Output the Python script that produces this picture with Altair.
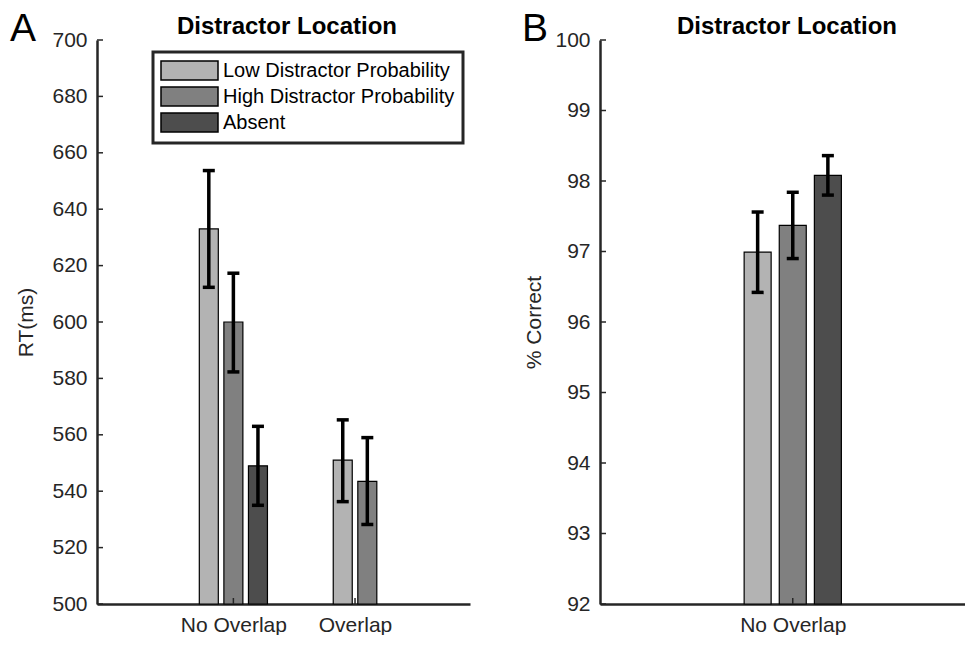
import altair as alt
import pandas as pd

FONT = "Liberation Sans"

conditions = ["Low Distractor Probability", "High Distractor Probability", "Absent"]
colors = ["#b3b3b3", "#808080", "#4d4d4d"]

# Panel A: response time
rt_groups = ["No Overlap", "Overlap"]
rt_group = ["No Overlap", "No Overlap", "No Overlap", "Overlap", "Overlap"]
rt_cond = ["Low Distractor Probability", "High Distractor Probability", "Absent",
           "Low Distractor Probability", "High Distractor Probability"]
rt_mean = [633.0, 600.0, 549.0, 551.0, 543.5]
rt_lo = [612.3, 582.3, 535.0, 536.3, 528.2]
rt_hi = [653.7, 617.3, 563.0, 565.3, 559.0]
rt_ticks = [500, 520, 540, 560, 580, 600, 620, 640, 660, 680, 700]

# Panel B: accuracy
acc_groups = ["No Overlap"]
acc_group = ["No Overlap", "No Overlap", "No Overlap"]
acc_cond = ["Low Distractor Probability", "High Distractor Probability", "Absent"]
acc_mean = [96.99, 97.37, 98.08]
acc_lo = [96.42, 96.90, 97.80]
acc_hi = [97.56, 97.84, 98.36]
acc_ticks = [92, 93, 94, 95, 96, 97, 98, 99, 100]

panel_title = "Distractor Location"


def make_df(groups, group_col, cond_col, means, lo, hi):
    rows = []
    for gi, g in enumerate(groups):
        idx = [i for i, x in enumerate(group_col) if x == g]
        n = len(idx)
        for k, i in enumerate(idx):
            rows.append({
                "group": g,
                "cond": cond_col[i],
                "pos": gi + 1 + (k - (n - 1) / 2) * 0.202,
                "mean": means[i],
                "lo": lo[i],
                "hi": hi[i],
            })
    return pd.DataFrame(rows)


def panel(df, groups, ticks, xdom, ydom, ytitle, title_pad, letter, letter_x,
          title_x, width, bar_px, legend):
    H = 564
    xs = alt.Scale(domain=xdom, nice=False, zero=False)
    ys = alt.Scale(domain=ydom, nice=False, zero=False)
    expr = " : ".join(
        [f"datum.value == {i + 1} ? '{g}'" for i, g in enumerate(groups)]) + " : ''"
    x_axis = alt.Axis(values=list(range(1, len(groups) + 1)), labelExpr=expr,
                      title=None, grid=False, ticks=False, labelPadding=10)
    y_axis = alt.Axis(values=ticks, title=ytitle, grid=False, ticks=False,
                      format="d", labelPadding=10, titlePadding=title_pad)
    color = alt.Color("cond:N", scale=alt.Scale(domain=conditions, range=colors),
                      legend=legend)
    base = alt.Chart(df)
    bars = base.mark_bar(size=bar_px, stroke="black", strokeWidth=1.2).encode(
        x=alt.X("pos:Q", scale=xs, axis=x_axis),
        y=alt.Y("mean:Q", scale=ys, axis=y_axis),
        y2=alt.datum(ydom[0]),
        color=color,
    )
    err = base.mark_rule(color="black", strokeWidth=3.5).encode(
        x="pos:Q", y="lo:Q", y2="hi:Q")
    cap_lo = base.mark_tick(orient="horizontal", size=12, thickness=3.5,
                            color="black", opacity=1).encode(x="pos:Q", y="lo:Q")
    cap_hi = base.mark_tick(orient="horizontal", size=12, thickness=3.5,
                            color="black", opacity=1).encode(x="pos:Q", y="hi:Q")
    ytk = alt.Chart(pd.DataFrame({"v": ticks})).mark_rule(
        color="#262626", strokeWidth=1.5).encode(
        y="v:Q", x=alt.value(0), x2=alt.value(6))
    xtk = alt.Chart(pd.DataFrame({"g": list(range(1, len(groups) + 1))})).mark_rule(
        color="#262626", strokeWidth=1.5).encode(
        x="g:Q", y=alt.value(H), y2=alt.value(H - 6))
    lab = alt.Chart(pd.DataFrame({"t": [letter]})).mark_text(
        align="left", baseline="alphabetic", fontSize=39, font=FONT,
        color="black").encode(x=alt.value(letter_x), y=alt.value(1), text="t:N")
    ttl = alt.Chart(pd.DataFrame({"t": [panel_title]})).mark_text(
        align="center", baseline="alphabetic", fontSize=24, fontWeight="bold",
        font=FONT, color="black").encode(
        x=alt.value(title_x), y=alt.value(-6), text="t:N")
    return alt.layer(bars, err, cap_lo, cap_hi, ytk, xtk, lab, ttl).properties(
        width=width, height=H)


df_a = make_df(rt_groups, rt_group, rt_cond, rt_mean, rt_lo, rt_hi)
df_b = make_df(acc_groups, acc_group, acc_cond, acc_mean, acc_lo, acc_hi)

leg = alt.Legend(
    title=None, orient="none", legendX=56, legendY=12,
    symbolType="M-3,-1L3,-1L3,1L-3,1Z", symbolSize=361,
    symbolStrokeColor="black", symbolStrokeWidth=1.5, symbolOffset=18,
    labelOffset=23, labelFontSize=20, labelFont=FONT, labelColor="black",
    labelLimit=500, padding=8, rowPadding=1, strokeColor="#262626",
    fillColor="white",
)


def build(with_stroke):
    a = panel(df_a, rt_groups, rt_ticks, [-0.08, 2.904], [500, 700], "RT(ms)", 15,
              "A", -87, 190, 373, 19, leg)
    b = panel(df_b, acc_groups, acc_ticks, [-0.08, 1.962], [92, 100], "% Correct",
              10, "B", -78, 187, 365, 27, None)
    ch = alt.hconcat(a, b, spacing=52).resolve_scale(color="independent").properties(
        padding={"left": 2, "top": 2, "right": 0, "bottom": 0}
    ).configure_view(stroke=None).configure_axis(
        labelFont=FONT, titleFont=FONT, labelFontSize=21, titleFontSize=21,
        labelColor="#262626", titleColor="#262626", domainColor="#262626",
        domainWidth=2.5, titleFontWeight="normal",
    )
    if with_stroke:
        ch = ch.configure_legend(strokeWidth=3)
    return ch


try:
    chart = build(True)
    chart.to_dict()
except Exception:
    chart = build(False)

chart.save("out.html", embed_options={"renderer": "svg", "actions": False})
